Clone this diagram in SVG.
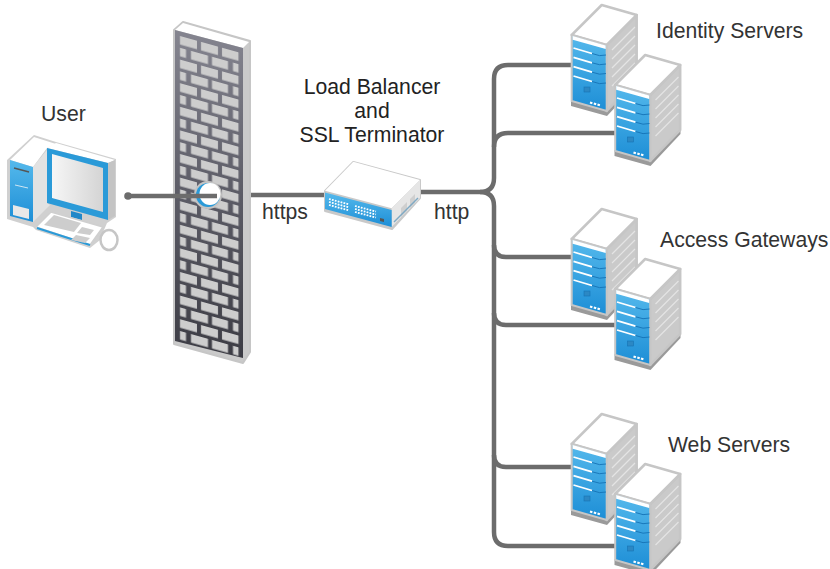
<svg xmlns="http://www.w3.org/2000/svg" width="830" height="569" viewBox="0 0 830 569">
<style>
text{font-family:"Liberation Sans",Arial,sans-serif;font-size:21.200px;fill:#333}
.m{text-anchor:middle;fill:#222}
.conn{fill:none;stroke:#6c6c6c;stroke-width:4.500;stroke-linecap:butt}
.edge{fill:#fff;stroke:#c6c6c6;stroke-width:2.500;stroke-linejoin:round}
.side{fill:#cacaca;stroke:#c6c6c6;stroke-width:2.500;stroke-linejoin:round}
.sl{stroke:#e4e4e4;stroke-width:1.200;fill:none}
.wb{stroke:#fff;stroke-width:1.800;fill:none}
.db{stroke:#1573b5;stroke-width:.9;fill:none}
.brick{fill:#cdcdcd}
</style>
<defs>
<linearGradient id="blue" x1="0" y1="0" x2="0" y2="1"><stop offset="0" stop-color="#55b9ec"/><stop offset="1" stop-color="#1d8ed6"/></linearGradient>
<linearGradient id="screen" x1="0" y1="0" x2="1" y2="0"><stop offset="0" stop-color="#f6f6f6"/><stop offset="1" stop-color="#d4d4d4"/></linearGradient>
<linearGradient id="wallg" x1="0" y1="0" x2="0" y2="1"><stop offset="0" stop-color="#858590"/><stop offset=".5" stop-color="#5c5c66"/><stop offset="1" stop-color="#3c3c44"/></linearGradient>
<pattern id="bricks" width="68" height="23.600" patternUnits="userSpaceOnUse" patternTransform="translate(175,34.600) skewY(15.600)">
<rect class="brick" x="5" y="0" width="17" height="8.500"/><rect class="brick" x="26" y="0" width="17" height="8.500"/><rect class="brick" x="47" y="0" width="16.500" height="8.500"/>
<rect class="brick" x="5" y="11.800" width="6" height="8.500"/><rect class="brick" x="16" y="11.800" width="17" height="8.500"/><rect class="brick" x="37" y="11.800" width="16" height="8.500"/><rect class="brick" x="58" y="11.800" width="5.500" height="8.500"/>
</pattern>
<g id="server">
<path d="M571 100 L607 110 L637 80 L637 84 L607 116 L571 106Z" fill="#9a9a9a"/>
<path class="side" d="M606.700 45 L636.700 15 L636.700 80 L606.700 111Z"/>
<path class="edge" d="M571.700 35 L601.700 5 L636.700 15 L606.700 45Z"/>
<path d="M571.700 35 L606.700 45 L606.700 111 L571.700 101Z" fill="url(#blue)" stroke="#c6c6c6" stroke-width="2"/>
<path d="M572.700 36 L605.700 45.500 L605.700 49 L572.700 39.800Z" fill="#fff"/>
<path class="wb" d="M573.500 48 L592 53.500M573.500 57.300 L592 62.800M573.500 66.700 L592 72.200M573.500 76 L592 81.500"/>
<path class="db" d="M592 53.500Q600 57 606 55M592 62.800Q600 66 606 64M592 72.200Q600 75.500 606 73.500M592 81.500Q600 85 606 83"/>
<rect x="584" y="87" width="6" height="5" fill="#2c88c4" stroke="#1573b5" stroke-width=".6"/>
<path d="M590 102.500 l2.400 .7M593.800 103.500 l2.400 .7M597.500 104.500 l2.400 .7" stroke="#fff" stroke-width="2.200"/>
<path class="sl" d="M612 50 L635 27M612 59 L635 36M612 68 L635 45M612 77 L635 54M612 86 L635 63"/>
</g>
<g id="pair">
<use href="#server"/>
<use href="#server" x="43.500" y="50"/>
</g>
</defs>

<g id="connectors">
<path class="conn" d="M250 195 H326"/>
<path class="conn" d="M420 192 H480 Q494 192 494 178 V79 Q494 65 508 65 H573"/>
<path class="conn" d="M480 192 Q494 192 494 206 V532 Q494 546 508 546 H617"/>
<path class="conn" d="M494 147 Q494 133 508 133 H616"/>
<path class="conn" d="M494 245 Q494 257 506 257 H573"/>
<path class="conn" d="M494 313 Q494 325 506 325 H616"/>
<path class="conn" d="M494 455 Q494 467 506 467 H573"/>
</g>

<g id="user">
<path d="M7 160 L34 135 L56 142 L116 159 L116 217 L107 223 L104 230 L100 240 L90 248 L36 230 L33 227 L7 219Z" fill="#d0d0d0"/>
<path d="M10 160 L34 137 L56 144 L47 148 L33 167Z" fill="#fff"/>
<path d="M33 167 L47 150 L47 203 L50 205 L37 218 L33 222Z" fill="#e2e2e2"/>
<path d="M10 160 L33 167 L33 222 L10 216Z" fill="url(#blue)"/>
<path d="M14 168 L29 172" stroke="#555" stroke-width="1.600"/>
<path d="M15 185 L28 188" stroke="#cfe6f3" stroke-width="1"/>
<path d="M13 205 L29 209 L29 219 L13 215Z" fill="#e8e8e8"/>
<path d="M47 148 L56 143 L115 160 L108 163Z" fill="#fff"/>
<path d="M108 163 L115 160 L115 216 L108 220Z" fill="#c4c4c4"/>
<path d="M47 148 L108 163 L108 220 L47 203Z" fill="#2a9ad8"/>
<path d="M52 154 L103 168 L103 212 L52 198Z" fill="url(#screen)"/>
<path d="M71 211 L82 214 L82 220 L71 217Z" fill="#2288c8"/>
<path d="M36 227 L51 212 L103 227 L90 245Z" fill="#fff" stroke="#cfcfcf" stroke-width="1.500"/>
<path d="M37 228 L90 245" stroke="#2a9ad8" stroke-width="2"/>
<path d="M44 225 L54 215 L81 223 L74 232Z" fill="#cdcdcd"/>
<path d="M77 233 L82 227 L94 230 L90 235ZM76 235 L90 238 L85 243 L71 240Z" fill="#cdcdcd"/>
<ellipse cx="109" cy="240" rx="8.500" ry="10" fill="#fff" stroke="#c6c6c6" stroke-width="2.500"/>
<text x="41" y="121">User</text>
</g>

<g id="firewall">
<path d="M174 30 L183 22 L250 41 L250 352 L243 363 L174 344Z" fill="#cacaca" stroke="#c6c6c6" stroke-width="2" stroke-linejoin="round"/>
<path d="M175 30 L183 23 L249 42 L243 48Z" fill="#fff"/>
<path d="M175 30 L243 48 L243 358 L175 341Z" fill="url(#wallg)"/>
<path d="M175 34 L243 52 L243 358 L175 341Z" fill="url(#bricks)"/>
<ellipse cx="208" cy="195" rx="14" ry="14" fill="#c4c4c4"/>
<ellipse cx="208" cy="195" rx="12" ry="12" fill="#2a9ad8"/>
<ellipse cx="210" cy="194" rx="10.500" ry="11" fill="#fff"/>
</g>

<g id="uplink">
<path class="conn" d="M128 196 H217"/>
<circle cx="128" cy="196" r="3.800" fill="#6c6c6c"/>
</g>

<g id="balancer">
<path d="M325 191 L353.300 162 L420 180 L420 198 L392 229 L325 211Z" fill="#c9c9c9" stroke="#c9c9c9" stroke-width="2" stroke-linejoin="round"/>
<path d="M325 190.700 L353.300 161.700 L420 180 L391.700 208.300Z" fill="#fff"/>
<path d="M391.700 208.300 L420 180 L420 198 L391.700 227Z" fill="#e6e6e6"/>
<path d="M325 192.500 L391.700 210 L391.700 227 L325 209Z" fill="url(#blue)"/>
<path d="M329 199 l20 5.300M329 202 l20 5.300M329 205 l20 5.300M355 206 l21 5.500M355 209 l21 5.500M355 212 l21 5.500" fill="none" stroke="#fff" stroke-width="1.800" stroke-dasharray="1.800 1.200"/>
<path d="M380 218 l4 1 v3 l-4 -1Z" fill="#555"/>
<path d="M401 208 l6 -6 v9 l-6 6ZM410 199 l5 -5 v9 l-5 5Z" fill="#cfcfcf"/>
<path d="M394 222 L418 198" stroke="#7fa9c4" stroke-width="1.500"/>
<text class="m" x="372" y="94">Load Balancer</text>
<text class="m" x="372" y="118">and</text>
<text class="m" x="372" y="142">SSL Terminator</text>
</g>

<g id="proto-labels">
<text x="262" y="219">https</text>
<text x="434" y="219">http</text>
</g>

<g id="identity-servers">
<use href="#pair"/>
<text x="656" y="38">Identity Servers</text>
</g>
<g id="access-gateways">
<use href="#pair" y="204"/>
<text x="660" y="247">Access Gateways</text>
</g>
<g id="web-servers">
<use href="#pair" y="409"/>
<text x="668" y="452">Web Servers</text>
</g>
</svg>
